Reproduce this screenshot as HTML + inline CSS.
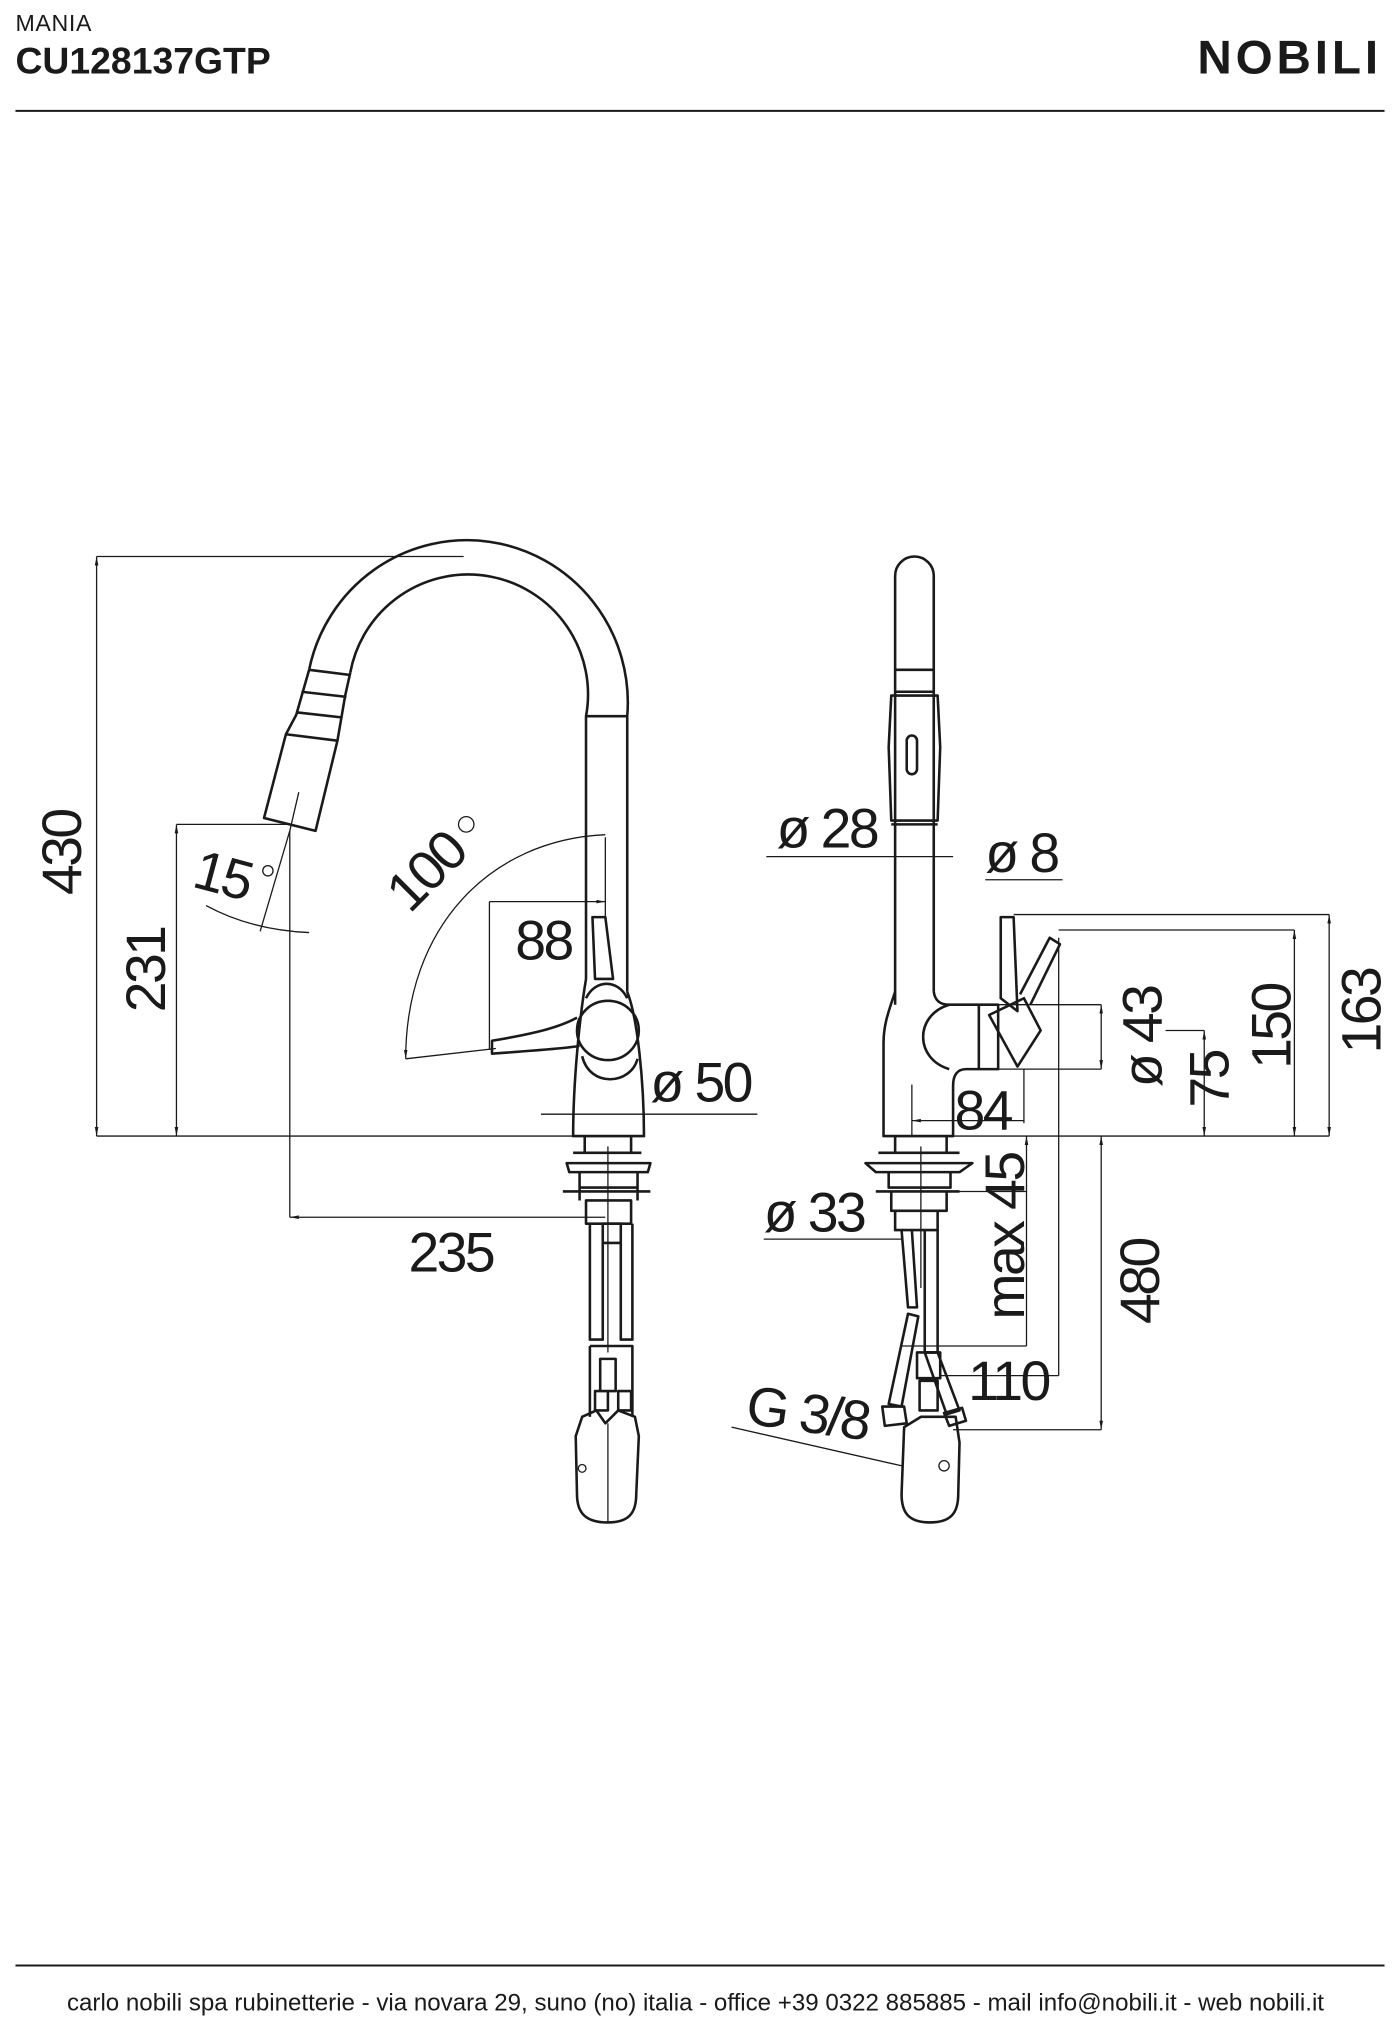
<!DOCTYPE html>
<html><head><meta charset="utf-8"><style>
html,body{margin:0;padding:0;background:#fff;}
svg{display:block;}
text{font-family:"Liberation Sans",sans-serif;fill:#1a1a1a;}
.o{fill:none;stroke:#1a1a1a;stroke-width:2;stroke-linejoin:round;}
.d{fill:none;stroke:#1a1a1a;stroke-width:1;}
.n{font-size:43px;letter-spacing:-2px;}
</style></head><body>
<svg width="1400" height="2021" viewBox="0 0 1087 1569" xmlns="http://www.w3.org/2000/svg">
<defs>
<marker id="a" viewBox="0 0 10 10" refX="10" refY="5" markerWidth="7" markerHeight="7" orient="auto-start-reverse"><path d="M0,3 L10,5 L0,7z" fill="#1a1a1a"/></marker>
</defs>
<!-- header -->
<text x="12" y="24" style="font-size:18px;font-weight:300;letter-spacing:0.5px">MANIA</text>
<text x="12" y="57" style="font-size:29px;font-weight:bold;letter-spacing:0px">CU128137GTP</text>
<text x="1073" y="57" text-anchor="end" style="font-size:37px;font-weight:bold;letter-spacing:3px">NOBILI</text>
<line x1="12" y1="86" x2="1075" y2="86" stroke="#1a1a1a" stroke-width="1.5"/>
<line x1="12" y1="1526" x2="1075" y2="1526" stroke="#1a1a1a" stroke-width="1.5"/>
<text x="540" y="1561" text-anchor="middle" textLength="976" lengthAdjust="spacingAndGlyphs" style="font-size:18.5px">carlo nobili spa rubinetterie - via novara 29, suno (no) italia - office +39 0322 885885 - mail info@nobili.it - web nobili.it</text>

<!-- LEFT VIEW -->
<line class="d" x1="75" y1="432" x2="360" y2="432"/>
<line class="d" x1="75" y1="882" x2="500" y2="882"/>
<line class="d" x1="75" y1="432" x2="75" y2="882" marker-start="url(#a)" marker-end="url(#a)"/>
<text class="n" transform="translate(63,662) rotate(-90)" text-anchor="middle">430</text>
<line class="d" x1="137" y1="640" x2="225" y2="640"/>
<line class="d" x1="137" y1="640" x2="137" y2="882" marker-start="url(#a)" marker-end="url(#a)"/>
<text class="n" transform="translate(128,753) rotate(-90)" text-anchor="middle">231</text>
<line class="d" x1="225" y1="645" x2="225" y2="945"/>
<line class="d" x1="225" y1="945" x2="470" y2="945" marker-start="url(#a)"/>
<text class="n" x="350" y="987" text-anchor="middle">235</text>
<line class="d" x1="225" y1="645" x2="202" y2="723"/>
<path class="d" d="M160,703 Q195,722 240,724"/>
<text class="n" transform="translate(148,688) rotate(15)">15</text>
<circle cx="208" cy="676" r="4" class="d"/>
<path class="d" d="M470,648 C380,652 315,720 315,822" marker-end="url(#a)"/>
<line class="d" x1="315" y1="822" x2="385" y2="814"/>
<text class="n" transform="translate(318,710) rotate(-45)">100</text>
<circle cx="362" cy="640" r="6" class="d" stroke-width="2.5"/>
<line class="d" x1="380" y1="700" x2="470" y2="700" marker-end="url(#a)"/>
<line class="d" x1="380" y1="700" x2="380" y2="815"/>
<line class="d" x1="470" y1="650" x2="470" y2="712"/>
<text class="n" x="422" y="745" text-anchor="middle">88</text>
<line class="d" x1="420" y1="865" x2="588" y2="865"/>
<text class="n" x="505" y="855">ø 50</text>
<!-- spout -->
<path class="o" d="M240,520 A125,126 0 0 1 487,556 L487,770"/>
<path class="o" d="M272,522 A92,92 0 0 1 455,556 L455,760"/>
<line class="o" x1="455" y1="556" x2="487" y2="556"/>
<path class="o" d="M240,520 L230,555 L222,570 L205,635 L245,645 L262,575 L268,540 L272,522"/>
<path class="o" d="M240,520 L272,524 M234,537 L269,541 M230,553 L266,557 M222,570 L262,575"/>
<line class="d" x1="232" y1="615" x2="225" y2="645"/>
<!-- body -->
<path class="o" d="M455,760 C450,790 445,840 445,882 L500,882 C500,840 495,790 487,770"/>
<path class="o" d="M460,712 L470,712 L476,760 L462,760 Z"/>
<path class="o" d="M455,775 C462,760 480,760 487,775"/>
<ellipse class="o" cx="472" cy="800" rx="24" ry="23"/>
<path class="o" d="M452,820 C458,845 490,842 495,822"/>
<path class="o" d="M448,790 C430,800 400,805 382,808 L382,818 C410,816 440,814 450,812"/>
<!-- under sink left -->
<path class="o" d="M454,882 L454,895 L490,895 L490,882 M445,895 L498,895 M440,903 L505,903 L503,910 L442,910 Z M450,910 L450,922 L495,922 L495,910 M437,925 L505,925 M450,922 L450,932 M495,922 L495,932 M455,932 L490,932 L490,950 L455,950 Z"/>
<path class="o" d="M458,950 L458,1040 L468,1040 L468,950 M482,950 L482,1040 L491,1040 L491,950 M468,950 L482,950 L482,965 L468,965 Z"/>
<path class="o" d="M458,1045 L491,1045 L491,1100 M458,1045 L458,1100"/>
<path class="o" d="M462,1080 L472,1080 L472,1095 L462,1095 Z M480,1080 L490,1080 L490,1095 L480,1095 Z M466,1055 L478,1055 L478,1080 L466,1080 Z"/>
<path class="o" d="M452,1100 L463,1095 L470,1105 L480,1095 L493,1100 L496,1115 L494,1160 C494,1175 488,1182 472,1182 C455,1182 448,1175 448,1160 L447,1115 Z"/>
<line class="d" x1="472" y1="1105" x2="472" y2="1182"/>
<circle class="d" cx="452" cy="1140" r="3"/>
<line class="d" x1="472" y1="890" x2="472" y2="1050"/>

<!-- RIGHT VIEW -->
<path class="o" d="M695,780 L695,447 A15,15 0 0 1 725,447 L725,770"/>
<path class="o" d="M695,520 L725,520 M695,537 L725,537 M692,540 L728,540 L730,580 L728,637 L692,637 L690,580 Z M692,640 L728,640"/>
<rect class="o" x="704" y="571" width="8" height="30" rx="4"/>
<path class="o" d="M695,770 C690,785 686,795 686,810 L686,882 L740,882 L740,843 C740,835 743,830 750,830 L775,830 L775,780 L737,780 C730,780 726,777 725,770"/>
<path class="o" d="M737,780 C710,788 710,822 737,830"/>
<line class="o" x1="760" y1="780" x2="760" y2="830"/>
<path class="o" d="M777,712 L777,775 L790,785 L787,712 Z"/>
<path class="o" d="M792,772 L815,728 L823,733 L800,780"/>
<path class="o" d="M768,788 L795,775 L808,800 L790,828 Z"/>
<line class="d" x1="595" y1="665" x2="740" y2="665"/>
<text class="n" x="603" y="658">ø 28</text>
<line class="d" x1="765" y1="683" x2="825" y2="683"/>
<text class="n" x="765" y="677">ø 8</text>
<line class="d" x1="787" y1="710" x2="1032" y2="710"/>
<line class="d" x1="822" y1="722" x2="1005" y2="722"/>
<line class="d" x1="1032" y1="710" x2="1032" y2="882" marker-start="url(#a)" marker-end="url(#a)"/>
<text class="n" transform="translate(1072,785) rotate(-90)" text-anchor="middle">163</text>
<line class="d" x1="1005" y1="722" x2="1005" y2="882" marker-start="url(#a)" marker-end="url(#a)"/>
<text class="n" transform="translate(1002,797) rotate(-90)" text-anchor="middle">150</text>
<line class="d" x1="905" y1="800" x2="935" y2="800"/>
<line class="d" x1="935" y1="800" x2="935" y2="882" marker-start="url(#a)" marker-end="url(#a)"/>
<text class="n" transform="translate(954,838) rotate(-90)" text-anchor="middle">75</text>
<line class="d" x1="770" y1="780" x2="855" y2="780"/>
<line class="d" x1="770" y1="830" x2="855" y2="830"/>
<line class="d" x1="855" y1="780" x2="855" y2="830" marker-start="url(#a)" marker-end="url(#a)"/>
<text class="n" transform="translate(902,805) rotate(-90)" text-anchor="middle">ø 43</text>
<line class="d" x1="686" y1="882" x2="1032" y2="882"/>
<line class="d" x1="708" y1="842" x2="708" y2="882"/>
<line class="d" x1="708" y1="870" x2="795" y2="870" marker-start="url(#a)"/>
<line class="d" x1="795" y1="830" x2="795" y2="872"/>
<text class="n" x="763" y="877" text-anchor="middle">84</text>
<line class="d" x1="855" y1="882" x2="855" y2="1110" marker-start="url(#a)" marker-end="url(#a)"/>
<line class="d" x1="740" y1="1110" x2="855" y2="1110"/>
<text class="n" transform="translate(900,995) rotate(-90)" text-anchor="middle">480</text>
<line class="d" x1="822" y1="728" x2="822" y2="1068"/>
<line class="d" x1="730" y1="1068" x2="822" y2="1068"/>
<text class="n" x="783" y="1087" text-anchor="middle">110</text>
<line class="d" x1="797" y1="882" x2="797" y2="1045" marker-start="url(#a)"/>
<line class="d" x1="700" y1="1045" x2="797" y2="1045"/>
<line class="d" x1="690" y1="925" x2="797" y2="925"/>
<text class="n" transform="translate(795,960) rotate(-90)" text-anchor="middle">max 45</text>
<line class="d" x1="593" y1="962" x2="700" y2="962"/>
<text class="n" x="593" y="956">ø 33</text>
<line class="d" x1="568" y1="1108" x2="700" y2="1138"/>
<text class="n" transform="translate(578,1105) rotate(8)">G 3/8</text>
<path class="o" d="M695,882 L695,895 L735,895 L735,882 M682,895 L745,895 M672,903 L755,903 L745,910 L680,910 Z M690,910 L690,922 L738,922 L738,910 M680,925 L745,925 M692,925 L735,925 L735,940 L692,940 Z M695,940 L728,940 L728,955 L695,955 Z"/>
<path class="o" d="M700,955 L705,1015 L712,1015 L708,955 M718,955 L718,1050 L728,1050 L728,955"/>
<path class="o" d="M705,1020 L690,1090 L700,1092 L713,1022 Z"/>
<path class="o" d="M718,1050 L728,1050 L745,1095 L735,1098 Z"/>
<path class="o" d="M712,1050 L730,1050 L730,1070 L712,1070 Z M714,1072 L728,1072 L728,1095 L714,1095 Z"/>
<path class="o" d="M685,1092 L702,1092 L704,1105 L687,1107 Z M733,1097 L747,1093 L750,1103 L737,1107 Z"/>
<path class="o" d="M702,1108 L715,1100 L742,1100 L745,1120 L744,1160 C744,1175 738,1182 722,1182 C706,1182 700,1175 700,1160 Z"/>
<circle class="d" cx="733" cy="1138" r="4"/>
<line class="d" x1="715" y1="890" x2="715" y2="1000"/>
</svg>
</body></html>
